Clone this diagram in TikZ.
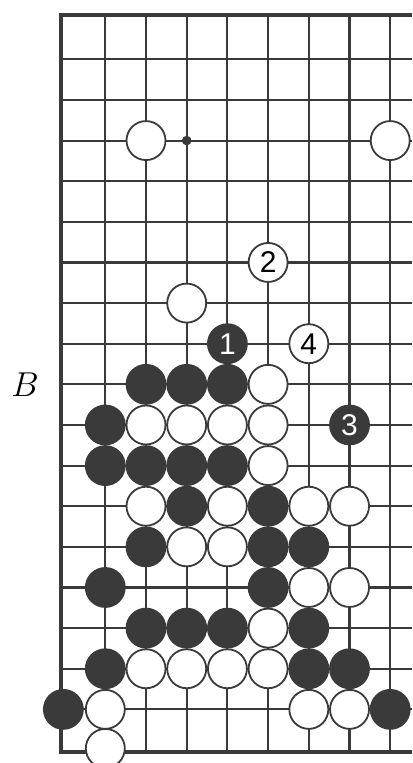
\documentclass[tikz,border=0pt]{standalone}
\usepackage{fontspec}
\newfontfamily\numfont{Liberation Sans}
\definecolor{ink}{HTML}{3A3A3A}

\begin{document}
\begin{tikzpicture}[x=20.35pt,y=-20.3125pt,
    gridline/.style={line width=1.05pt,draw=ink},
    edge/.style={line width=2.1pt,draw=ink},
    wstone/.style={circle,draw=ink,line width=0.9pt,fill=white,minimum size=19.5pt,
      inner sep=0pt,font=\numfont\fontsize{15}{15}\selectfont},
    bstone/.style={wstone,fill=ink,text=white}]
  \useasboundingbox (-1.587,-0.46) rectangle (8.536,18.32);
  % grid
  \foreach \r in {1,...,17}
    \draw[gridline] (-0.09,\r) -- (8.536,\r);
  \foreach \c in {1,...,8}
    \draw[gridline] (\c,-0.09) -- (\c,18.04);
  % board edge
  \draw[edge] (8.536,-0.09) -- (-0.09,-0.09) -- (-0.09,18.04) -- (8.536,18.04);
  \fill[ink] (3,3) circle (2.4pt);
  \node at (-0.97,9) {\fontsize{16}{16}\selectfont$B$};
  % white stones
  \foreach \c/\r in {2/3,8/3,3/7,5/9,2/10,3/10,4/10,5/10,5/11,2/12,4/12,6/12,7/12,
      3/13,4/13,6/14,7/14,5/15,2/16,3/16,4/16,5/16,1/17,6/17,7/17}
    \node[wstone] (w-\c-\r) at (\c,\r) {};
  \node[wstone] (w-1-18) at (1,17.96) {};
  % black stones
  \foreach \c/\r in {2/9,3/9,4/9,1/10,1/11,2/11,3/11,4/11,3/12,5/12,2/13,5/13,6/13,
      1/14,5/14,2/15,3/15,4/15,6/15,1/16,6/16,7/16,8/17}
    \node[bstone] (b-\c-\r) at (\c,\r) {};
  \node[bstone] (b-0-17) at (-0.03,17) {};
  % moves
  \node[bstone] (m1) at (4,8) {1};
  \node[wstone] (m2) at (5,6) {2};
  \node[bstone] (m3) at (7,10) {3};
  \node[wstone] (m4) at (6,8) {4};
\end{tikzpicture}
\end{document}
